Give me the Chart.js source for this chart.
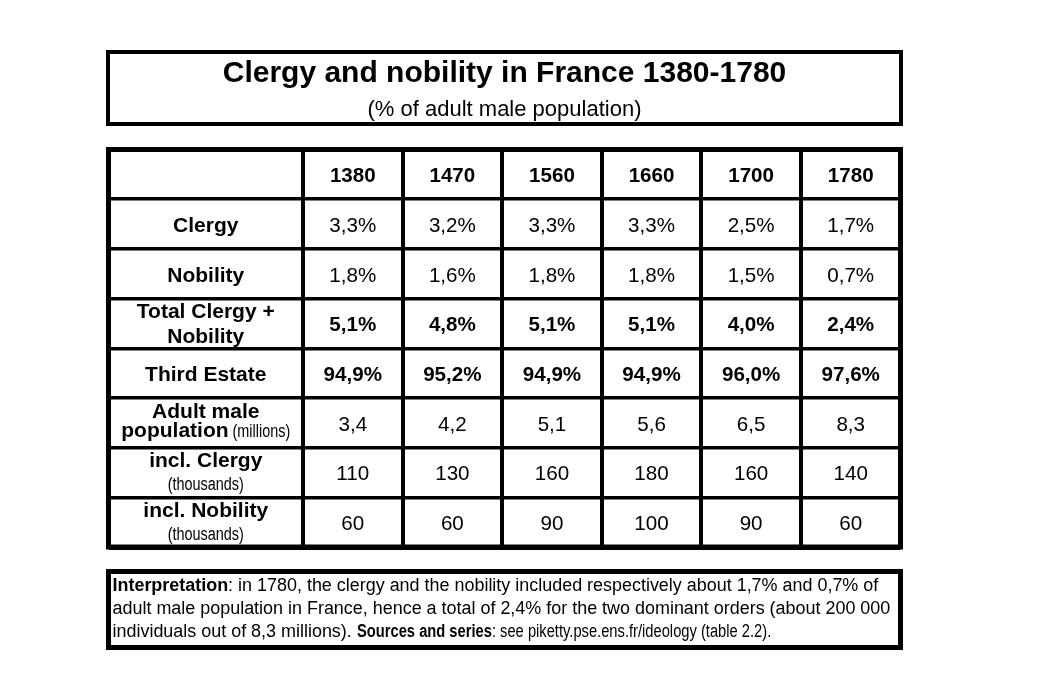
<!DOCTYPE html>
<html>
<head>
<meta charset="utf-8">
<script src="https://cdn.jsdelivr.net/npm/chart.js@4.4.1/dist/chart.umd.min.js"></script>
<style>
  html, body { margin:0; padding:0; background:#fff; width:1052px; height:678px; overflow:hidden; }
  #wrap { position:absolute; left:0; top:0; width:1052px; height:678px; }
  .box { position:absolute; box-sizing:border-box; border:4px solid #000; background:transparent; }
  #titleBox { left:106px; top:50px; width:797px; height:76px; }
  #title { position:absolute; left:0; right:0; top:3px; text-align:center; white-space:nowrap;
           font:bold 30px/1 "Liberation Sans", Arial, sans-serif; color:#000; }
  #subtitle { position:absolute; left:0; right:0; top:43.5px; text-align:center; white-space:nowrap;
           font:22px/1 "Liberation Sans", Arial, sans-serif; color:#000; }
  #noteBox { left:106px; top:569px; width:797px; height:81px; border-width:5px; padding-left:1.5px;
           font:17.95px/23px "Liberation Sans", Arial, sans-serif; color:#000; white-space:nowrap; }
  .narrow { font-family:"Liberation Sans Narrow", "Arial Narrow", sans-serif; }
  b { font-weight:bold; }
</style>
</head>
<body>
<div id="wrap"><canvas id="c"></canvas></div>
<div class="box" id="titleBox">
  <div id="title">Clergy and nobility in France 1380-1780</div>
  <div id="subtitle">(% of adult male population)</div>
</div>
<div class="box" id="noteBox"><b>Interpretation</b>: in 1780, the clergy and the nobility included respectively about 1,7% and 0,7% of<br>adult male population in France, hence a total of 2,4% for the two dominant orders (about 200 000<br>individuals out of 8,3 millions). <span class="narrow"><b>Sources and series</b>: see piketty.pse.ens.fr/ideology (table 2.2).</span></div>
<script>
// ---------------- data ----------------
const years = ['1380', '1470', '1560', '1660', '1700', '1780'];
const rowLabelLines = [
  ['Clergy'],
  ['Nobility'],
  ['Total Clergy +', 'Nobility'],
  ['Third Estate'],
  ['Adult male', 'population'],
  ['incl. Clergy'],
  ['incl. Nobility']
];
const rowUnits = ['', '', '', '', '(millions)', '(thousands)', '(thousands)'];
const clergyPct        = [3.3, 3.2, 3.3, 3.3, 2.5, 1.7];
const nobilityPct      = [1.8, 1.6, 1.8, 1.8, 1.5, 0.7];
const totalPct         = [5.1, 4.8, 5.1, 5.1, 4.0, 2.4];
const thirdEstatePct   = [94.9, 95.2, 94.9, 94.9, 96.0, 97.6];
const adultMaleMillions = [3.4, 4.2, 5.1, 5.6, 6.5, 8.3];
const clergyThousands  = [110, 130, 160, 180, 160, 140];
const nobilityThousands = [60, 60, 90, 100, 90, 60];

// ---------------- formatting / layout helpers ----------------
const fmtPct = v => v.toFixed(1).replace('.', ',') + '%';
const fmtDec = v => v.toFixed(1).replace('.', ',');
const fmtInt = v => String(v);

const firstColUnits = 1.953;                       // label column is ~1.95x a year column
const colEdges = [0];
colEdges.push(firstColUnits);
for (let i = 1; i <= years.length; i++) colEdges.push(firstColUnits + i);
const colCenter = i => (colEdges[i] + colEdges[i + 1]) / 2;
const nRows = rowLabelLines.length + 1;
const rowEdges = Array.from({length: nRows + 1}, (_, i) => i);

const FONT = '"Liberation Sans", Arial, sans-serif';
function hasFont(name) {
  const c = document.createElement('canvas').getContext('2d');
  c.font = '40px monospace';
  const a = c.measureText('abcdefghijklmnopW').width;
  c.font = '40px "' + name + '", monospace';
  return c.measureText('abcdefghijklmnopW').width !== a;
}
const HAS_NARROW = hasFont('Liberation Sans Narrow');

if (!HAS_NARROW) {
  document.querySelectorAll('.narrow').forEach(el => {
    el.style.fontFamily = FONT;
    el.style.display = 'inline-block';
    el.style.transformOrigin = '0 0';
    el.style.transform = 'scaleX(0.82)';
    el.style.marginRight = (-0.18 * el.offsetWidth) + 'px';
  });
}

// ---------------- datasets (one per table row) ----------------
function rowDataset(values, fmt, rowIdx, style) {
  return {
    data: values.map((v, i) => ({x: colCenter(i + 1), y: rowIdx + 0.5, lines: [[{t: fmt(v), s: style}]]})),
    pointRadius: 0, pointHoverRadius: 0, showLine: false
  };
}
const datasets = [];
datasets.push({
  data: years.map((yr, i) => ({x: colCenter(i + 1), y: 0.5, lines: [[{t: yr, s: 'bold'}]]})),
  pointRadius: 0, pointHoverRadius: 0, showLine: false
});
// row labels
datasets.push({
  data: rowLabelLines.map((lines, j) => {
    const out = lines.map(l => [{t: l, s: 'label'}]);
    let kind = lines.length === 2 ? 'two' : 'one';
    if (rowUnits[j]) {
      if (lines.length > 1) { out[out.length - 1].push({t: ' ' + rowUnits[j], s: 'narrow'}); kind = 'inlineUnit'; }
      else { out.push([{t: rowUnits[j], s: 'narrow'}]); kind = 'unitLine'; }
    }
    return {x: colCenter(0), y: j + 1.5, lines: out, kind};
  }),
  pointRadius: 0, pointHoverRadius: 0, showLine: false
});
datasets.push(rowDataset(clergyPct, fmtPct, 1, 'regular'));
datasets.push(rowDataset(nobilityPct, fmtPct, 2, 'regular'));
datasets.push(rowDataset(totalPct, fmtPct, 3, 'bold'));
datasets.push(rowDataset(thirdEstatePct, fmtPct, 4, 'bold'));
datasets.push(rowDataset(adultMaleMillions, fmtDec, 5, 'regular'));
datasets.push(rowDataset(clergyThousands, fmtInt, 6, 'regular'));
datasets.push(rowDataset(nobilityThousands, fmtInt, 7, 'regular'));

// ---------------- text plugin ----------------
const styles = {
  label:   {font: 'bold 21px ' + FONT, sx: 1},
  bold:    {font: 'bold 20.6px ' + FONT, sx: 1},
  regular: {font: '20.6px ' + FONT, sx: 1},
  narrow:  HAS_NARROW ? {font: '17.6px "Liberation Sans Narrow", ' + FONT, sx: 1}
                      : {font: '17.6px ' + FONT, sx: 0.82}
};
// baseline offsets (px, relative to row centre) per line layout
const baselines = {
  one: [8],
  two: [-5, 20],
  inlineUnit: [-5, 14.5],
  unitLine: [-5, 18]
};
const tableText = {
  id: 'tableText',
  afterDatasetsDraw(chart) {
    const ctx = chart.ctx;
    ctx.save();
    ctx.fillStyle = '#000';
    ctx.textBaseline = 'alphabetic';
    ctx.textAlign = 'left';
    chart.data.datasets.forEach((ds, di) => {
      const meta = chart.getDatasetMeta(di);
      meta.data.forEach((el, i) => {
        const raw = ds.data[i];
        const kind = raw.kind || (raw.lines.length === 1 ? 'one' : 'two');
        const offs = baselines[kind];
        raw.lines.forEach((runs, li) => {
          let total = 0;
          const widths = runs.map(r => {
            const st = styles[r.s];
            ctx.font = st.font;
            const w = ctx.measureText(r.t).width * st.sx;
            total += w;
            return w;
          });
          let x = el.x - total / 2;
          const y = el.y + offs[li];
          runs.forEach((r, k) => {
            const st = styles[r.s];
            ctx.font = st.font;
            ctx.save();
            ctx.translate(x, y);
            ctx.scale(st.sx, 1);
            ctx.fillText(r.t, 0, 0);
            ctx.restore();
            x += widths[k];
          });
        });
      });
    });
    // outer frame on chart area
    const a = chart.chartArea;
    ctx.lineWidth = 5;
    ctx.strokeStyle = '#000';
    ctx.strokeRect(a.left, a.top, a.right - a.left, a.bottom - a.top);
    ctx.restore();
  }
};

const W = 1052, H = 678;
const area = {left: 108.5, right: 900.5, top: 149.5, bottom: 547};

new Chart(document.getElementById('c'), {
  type: 'scatter',
  data: {datasets},
  options: {
    responsive: true,
    maintainAspectRatio: false,
    animation: false,
    events: [],
    layout: {padding: {left: area.left, right: W - area.right, top: area.top, bottom: H - area.bottom}},
    plugins: {legend: {display: false}, tooltip: {enabled: false}, title: {display: false}},
    scales: {
      x: {
        type: 'linear', min: colEdges[0], max: colEdges[colEdges.length - 1],
        afterBuildTicks: s => { s.ticks = colEdges.map(v => ({value: v})); },
        ticks: {display: false},
        border: {display: false},
        grid: {
          color: '#000', drawTicks: false,
          lineWidth: c => (c.index === 0 || c.index === colEdges.length - 1) ? 5 : 4
        }
      },
      y: {
        type: 'linear', reverse: true, min: rowEdges[0], max: rowEdges[rowEdges.length - 1],
        afterBuildTicks: s => { s.ticks = rowEdges.map(v => ({value: v})); },
        ticks: {display: false},
        border: {display: false},
        grid: {
          color: '#000', drawTicks: false,
          lineWidth: c => (c.index === 0 || c.index === rowEdges.length - 1) ? 5 : 3.5
        }
      }
    }
  },
  plugins: [tableText]
});
</script>
</body>
</html>
